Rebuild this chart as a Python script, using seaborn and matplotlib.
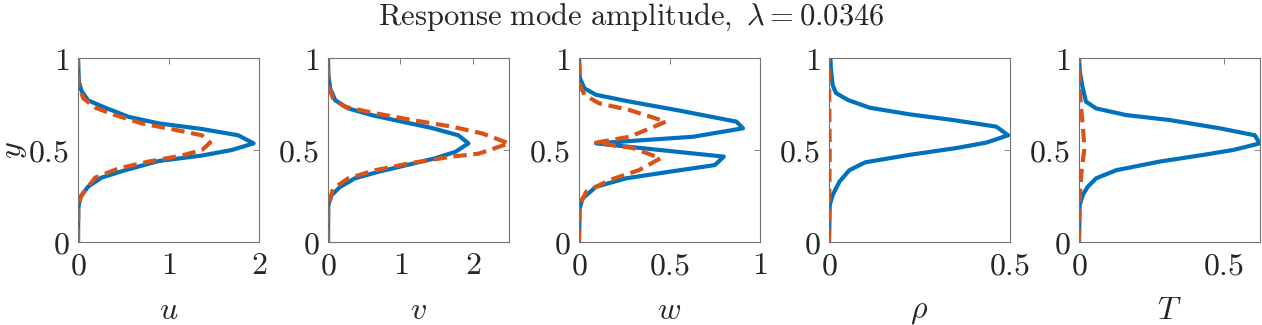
import numpy as np
import matplotlib
matplotlib.use("Agg")
import matplotlib.pyplot as plt
import seaborn as sns

sns.set_style("white")
plt.rcParams['mathtext.fontset'] = 'cm'
plt.rcParams['font.family'] = ['DejaVu Serif']
plt.rcParams['lines.dashed_pattern'] = [3.2, 1.6]

BLUE = '#0072BD'
ORANGE = '#D95319'

u_blue_y = [0, 0.18, 0.24, 0.30, 0.35, 0.39, 0.44, 0.47, 0.50, 0.536, 0.58, 0.614, 0.645, 0.68, 0.73, 0.77, 0.82, 0.87, 1]
u_blue_x = [0, 0.003, 0.02, 0.11, 0.26, 0.52, 0.89, 1.37, 1.70, 1.94, 1.77, 1.37, 0.89, 0.56, 0.30, 0.11, 0.04, 0.01, 0]
u_orng_y = [0, 0.2, 0.255, 0.35, 0.40, 0.437, 0.47, 0.50, 0.54, 0.58, 0.61, 0.645, 0.69, 0.73, 0.78, 0.85, 1]
u_orng_x = [0, 0.003, 0.04, 0.19, 0.45, 0.78, 1.15, 1.37, 1.46, 1.37, 1.07, 0.70, 0.41, 0.19, 0.06, 0.005, 0]

v_blue_y = [0, 0.2, 0.255, 0.30, 0.346, 0.382, 0.42, 0.455, 0.49, 0.536, 0.58, 0.62, 0.654, 0.69, 0.726, 0.77, 0.835, 0.91, 1]
v_blue_x = [0, 0.003, 0.05, 0.17, 0.37, 0.70, 1.11, 1.48, 1.76, 1.94, 1.80, 1.43, 1.02, 0.60, 0.28, 0.10, 0.03, 0.005, 0]
v_orng_y = [0, 0.2, 0.29, 0.346, 0.39, 0.43, 0.464, 0.48, 0.536, 0.59, 0.627, 0.663, 0.70, 0.735, 0.78, 0.85, 1]
v_orng_x = [0, 0.003, 0.07, 0.28, 0.65, 1.16, 1.71, 2.08, 2.50, 2.13, 1.71, 1.16, 0.65, 0.23, 0.07, 0.005, 0]

w_blue_y = [0, 0.18, 0.237, 0.30, 0.346, 0.382, 0.418, 0.464, 0.536, 0.572, 0.618, 0.654, 0.717, 0.763, 0.80, 0.835, 0.89, 1]
w_blue_x = [0, 0.003, 0.02, 0.094, 0.26, 0.50, 0.75, 0.80, 0.094, 0.63, 0.906, 0.87, 0.54, 0.28, 0.094, 0.03, 0.005, 0]
w_orng_y = [0, 0.2, 0.274, 0.337, 0.39, 0.455, 0.51, 0.54, 0.572, 0.654, 0.717, 0.754, 0.80, 0.853, 1]
w_orng_x = [0, 0.003, 0.04, 0.17, 0.33, 0.45, 0.30, 0.094, 0.28, 0.48, 0.28, 0.11, 0.03, 0.005, 0]

rho_blue_y = [0, 0.2, 0.255, 0.328, 0.39, 0.433, 0.473, 0.51, 0.54, 0.58, 0.627, 0.663, 0.694, 0.73, 0.772, 0.81, 0.853, 0.944, 1]
rho_blue_x = [0, 0.002, 0.01, 0.029, 0.056, 0.10, 0.22, 0.35, 0.434, 0.495, 0.462, 0.342, 0.222, 0.112, 0.052, 0.019, 0.01, 0.005, 0.004]
rho_orng_y = [0, 0.3, 0.5, 0.7, 1]
rho_orng_x = [0, 0.001, 0.002, 0.001, 0]

T_blue_y = [0, 0.2, 0.255, 0.30, 0.346, 0.39, 0.437, 0.473, 0.50, 0.536, 0.58, 0.618, 0.663, 0.69, 0.726, 0.763, 0.835, 0.926, 1]
T_blue_x = [0, 0.002, 0.013, 0.03, 0.059, 0.128, 0.278, 0.427, 0.531, 0.623, 0.606, 0.485, 0.312, 0.162, 0.059, 0.024, 0.013, 0.003, 0]
T_orng_y = [0, 0.2, 0.3, 0.37, 0.45, 0.5, 0.55, 0.65, 0.75, 0.85, 1]
T_orng_x = [0, 0.002, 0.005, 0.008, 0.014, 0.018, 0.017, 0.012, 0.006, 0.002, 0]

panels = [
    ('u', u_blue_x, u_blue_y, u_orng_x, u_orng_y, 2.0, [0, 1, 2], ['0', '1', '2']),
    ('v', v_blue_x, v_blue_y, v_orng_x, v_orng_y, 2.5, [0, 1, 2], ['0', '1', '2']),
    ('w', w_blue_x, w_blue_y, w_orng_x, w_orng_y, 1.0, [0, 0.5, 1], ['0', '0.5', '1']),
    ('\\rho', rho_blue_x, rho_blue_y, rho_orng_x, rho_orng_y, 0.5, [0, 0.5], ['0', '0.5']),
    ('T', T_blue_x, T_blue_y, T_orng_x, T_orng_y, 0.624, [0, 0.5], ['0', '0.5']),
]

fig = plt.figure(figsize=(12.62, 3.25), dpi=100)
lefts = [78, 328, 579, 829, 1079]
W, H = 1262.0, 325.0

for i, (name, bx, by, ox, oy, xmax, xt, xtl) in enumerate(panels):
    ax = fig.add_axes([lefts[i] / W, (H - 242) / H, 181 / W, 184 / H])
    sns.lineplot(x=bx, y=by, sort=False, estimator=None, color=BLUE, lw=3.0, ax=ax)
    sns.lineplot(x=ox, y=oy, sort=False, estimator=None, color=ORANGE, lw=3.0, ls='--', ax=ax)
    ax.set_xlim(0, xmax)
    ax.set_ylim(0, 1)
    ax.set_xticks(xt)
    ax.set_xticklabels(['$%s$' % t for t in xtl])
    ax.set_yticks([0, 0.5, 1])
    ax.set_yticklabels(['$0$', '$0.5$', '$1$'])
    ax.tick_params(direction='in', length=4, width=0.6, colors='0.45',
                   labelcolor='#262626', labelsize=23, top=True, right=True, pad=6)
    for s in ax.spines.values():
        s.set_color('0.45')
        s.set_linewidth(0.8)
    ax.set_xlabel('$%s$' % name, fontsize=23, color='#262626', labelpad=10)
    if i == 0:
        ax.set_ylabel('$y$', fontsize=23, color='#262626')
        ax.yaxis.set_label_coords(-0.27, 0.5)
    else:
        ax.set_ylabel('')

fig.suptitle(r'$\mathrm{Response\ mode\ amplitude,}\ \lambda = 0.0346$',
             fontsize=22, color='#262626', x=0.5, y=0.995, va='top')

fig.savefig('out.png', dpi=100)
